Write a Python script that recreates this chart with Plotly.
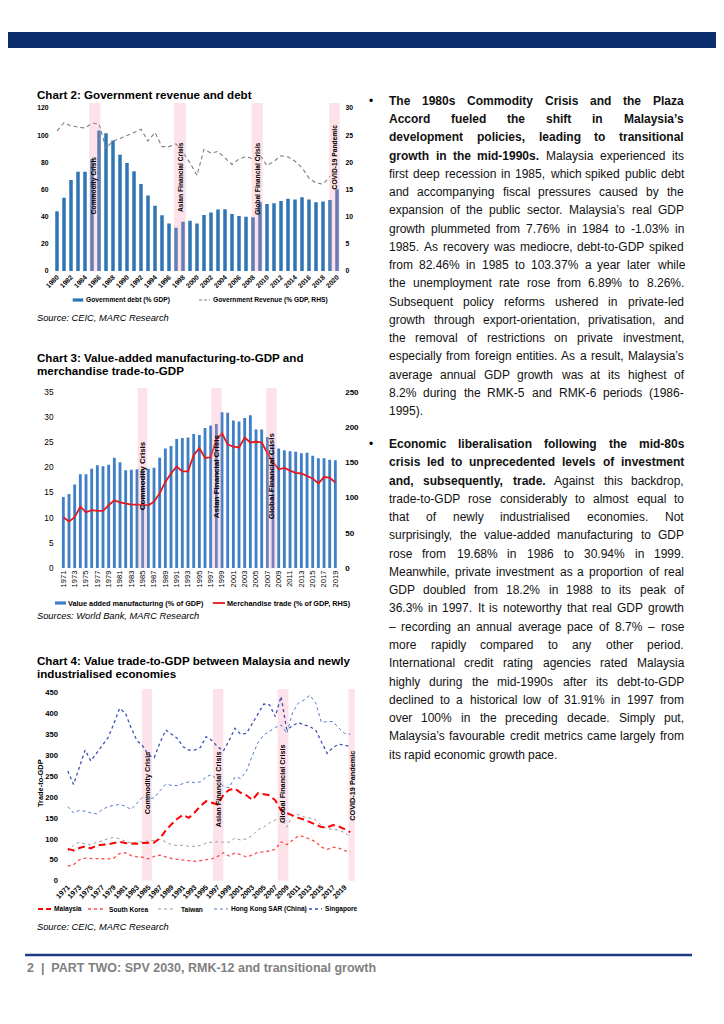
import plotly.graph_objects as go

# The page body has an 8px margin; the figure is sized to fill the rest of the 724x1024 window
OFF = 8
W, H = 724 - OFF, 1024 - OFF
def px(x): return (x - OFF) / W
def py(y): return 1 - (y - OFF) / H

FONT = "Liberation Sans"

# ---------------- Chart 2 data ----------------
c2_years = list(range(1980, 2021))
c2_debt = [44, 54, 67, 73, 73, 82.5, 103.4, 101.5, 96, 85.5,
           79.5, 73.5, 64, 55.5, 48, 41, 35, 31.9, 36.3, 37,
           35, 41.2, 43, 45.2, 45.5, 42, 40.5, 40, 39.5, 50.6,
           49.4, 49.9, 51.6, 53.1, 52.6, 54.3, 52.6, 50.6, 51.1, 52.3,
           60.2]
c2_revenue = [25.8, 27.3, 26.7, 26.5, 26.3, 27.2, 27.1, 22.6, 23.9, 24.4,
              24.9, 25.5, 26.1, 23.9, 25.5, 22.9, 22.9, 23.4, 21.8, 19.9,
              17.6, 22.4, 21.7, 22.0, 20.8, 19.6, 20.6, 21.1, 20.6, 21.3,
              19.4, 20.2, 21.2, 21.0, 20.2, 19.0, 17.1, 16.2, 16.0, 17.4,
              None]
c2_ticks = list(range(1980, 2021, 2))
c2_crisis_names = ["Commodity Crisis", "Asian Financial Crisis", "Global Financial Crisis", "COVID-19 Pandemic"]
c2_crisis_start = [1984.6, 1996.7, 2007.8, 2018.9]
c2_crisis_end = [1986.2, 1998.4, 2009.4, 2020.4]
c2_label_y = [63, 69, 68, 84]

# ---------------- Chart 3 data ----------------
c3_years = list(range(1971, 2020))
c3_manuf = [14.1, 14.7, 16.6, 18.6, 18.6, 19.7, 20.4, 20.2, 20.5, 21.9,
            21.0, 19.4, 19.5, 19.6, 19.6, 19.7, 19.9, 21.9, 23.7, 24.2,
            25.6, 25.8, 25.9, 26.6, 26.4, 27.8, 28.3, 28.6, 30.9, 30.8,
            29.3, 29.1, 29.8, 30.3, 27.5, 27.5, 26.0, 24.6, 23.7, 23.4,
            23.2, 23.1, 22.8, 22.9, 22.3, 21.8, 21.8, 21.5, 21.4]
c3_trade = [72, 66, 72, 87, 79, 82, 81, 81, 89, 96,
            93, 91, 90, 90, 89, 89, 94, 106, 122, 134,
            144, 137, 137, 160, 170, 156, 157, 182, 191, 175,
            172, 171, 185, 178, 179, 178, 163, 150, 140, 142,
            138, 135, 134, 131, 127, 120, 129, 128, 121]
c3_ticks = list(range(1971, 2020, 2))
c3_crisis_names = ["Commodity Crisis", "Asian Financial Crisis", "Global Financial Crisis"]
c3_crisis_start = [1984.1, 1997.1, 2006.8]
c3_crisis_end = [1985.8, 1998.95, 2008.65]
c3_label_y = [18.3, 18.3, 18.3]

# ---------------- Chart 4 data ----------------
c4_years = list(range(1971, 2021))
c4_malaysia = [76, 72, 78, 82, 77, 84, 86, 87, 90, 93,
               90, 89, 88, 90, 90, 91, 102, 120, 135, 148,
               157, 150, 163, 178, 190, 186, 182, 205, 217, 220,
               210, 204, 193, 209, 206, 204, 192, 168, 162, 156,
               150, 146, 140, 134, 128, 127, 133, 130, 124, 116]
c4_south_korea = [35, 38, 50, 54, 53, 53, 52, 52, 54, 65,
                  67, 60, 57, 56, 52, 58, 61, 57, 53, 51,
                  50, 48, 46, 48, 51, 52, 58, 67, 59, 66,
                  62, 57, 61, 68, 69, 71, 75, 93, 86, 97,
                  107, 105, 99, 93, 80, 75, 80, 78, 72, 69]
c4_taiwan = [70, 85, 92, 88, 85, 92, 95, 101, 103, 100,
             94, 90, 91, 93, 95, 96, 99, 93, 86, 84,
             85, 82, 82, 84, 90, 92, 93, 92, 92, 102,
             97, 100, 108, 122, 128, 138, 145, 150, 128, 155,
             158, 152, 150, 145, 132, 124, 122, 121, 115, 105]
c4_hong_kong = [177, 162, 168, 166, 162, 160, 170, 177, 180, 182,
                178, 170, 185, 200, 196, 198, 215, 230, 228, 227,
                232, 236, 234, 236, 248, 254, 238, 226, 222, 248,
                244, 262, 298, 330, 348, 358, 366, 372, 352, 402,
                424, 432, 443, 425, 378, 380, 380, 365, 352, 350]
c4_singapore = [262, 230, 270, 312, 286, 305, 325, 342, 375, 412,
                400, 365, 335, 322, 300, 294, 330, 360, 350, 340,
                320, 312, 312, 318, 344, 335, 320, 310, 335, 364,
                350, 352, 375, 400, 422, 420, 392, 440, 360, 370,
                378, 372, 368, 360, 330, 304, 318, 326, 324, 320]
c4_ticks = list(range(1971, 2020, 2))
c4_crisis_names = ["Commodity Crisis", "Asian Financial Crisis", "Global Financial Crisis", "COVID-19 Pandemic"]
c4_crisis_start = [1983.9, 1996.2, 2007.4, 2019.7]
c4_crisis_end = [1985.6, 1998.0, 2009.3, 2020.8]
c4_label_y = [233, 219, 231, 226]

# ---------------- Text column ----------------
para1 = [
    ("The 1980s Commodity Crisis and the Plaza", ""),
    ("Accord fueled the shift in Malaysia’s", ""),
    ("development policies, leading to transitional", ""),
    ("growth in the mid-1990s.", "Malaysia experienced its"),
    ("", "first deep recession in 1985, which spiked public debt"),
    ("", "and accompanying fiscal pressures caused by the"),
    ("", "expansion of the public sector. Malaysia’s real GDP"),
    ("", "growth plummeted from 7.76% in 1984 to -1.03% in"),
    ("", "1985. As recovery was mediocre, debt-to-GDP spiked"),
    ("", "from 82.46% in 1985 to 103.37% a year later while"),
    ("", "the unemployment rate rose from 6.89% to 8.26%."),
    ("", "Subsequent policy reforms ushered in private-led"),
    ("", "growth through export-orientation, privatisation, and"),
    ("", "the removal of restrictions on private investment,"),
    ("", "especially from foreign entities. As a result, Malaysia’s"),
    ("", "average annual GDP growth was at its highest of"),
    ("", "8.2% during the RMK-5 and RMK-6 periods (1986-"),
    ("", "1995)."),
]
para2 = [
    ("Economic liberalisation following the mid-80s", ""),
    ("crisis led to unprecedented levels of investment", ""),
    ("and, subsequently, trade.", "Against this backdrop,"),
    ("", "trade-to-GDP rose considerably to almost equal to"),
    ("", "that of newly industrialised economies. Not"),
    ("", "surprisingly, the value-added manufacturing to GDP"),
    ("", "rose from 19.68% in 1986 to 30.94% in 1999."),
    ("", "Meanwhile, private investment as a proportion of real"),
    ("", "GDP doubled from 18.2% in 1988 to its peak of"),
    ("", "36.3% in 1997. It is noteworthy that real GDP growth"),
    ("", "– recording an annual average pace of 8.7% – rose"),
    ("", "more rapidly compared to any other period."),
    ("", "International credit rating agencies rated Malaysia"),
    ("", "highly during the mid-1990s after its debt-to-GDP"),
    ("", "declined to a historical low of 31.91% in 1997 from"),
    ("", "over 100% in the preceding decade. Simply put,"),
    ("", "Malaysia’s favourable credit metrics came largely from"),
    ("", "its rapid economic growth pace."),
]
footer_text = "2  |  PART TWO: SPV 2030, RMK-12 and transitional growth"

# ---------------- Arial-compatible metrics (Liberation Sans) ----------------
_lc = "abcdefghijklmnopqrstuvwxyz"
_uc = "ABCDEFGHIJKLMNOPQRSTUVWXYZ"
REG = dict(zip(_lc, [556,556,500,556,556,278,556,556,222,222,500,222,833,556,556,556,556,333,500,278,556,500,722,500,500,500]))
REG.update(zip(_uc, [667,667,722,722,667,611,778,722,278,500,667,556,833,722,778,667,778,722,667,611,722,667,944,667,667,611]))
REG.update({' ':278, '.':278, ',':278, '-':333, '%':889, '(':333, ')':333, ':':278, '’':222, '–':556, '|':260})
BLD = dict(zip(_lc, [556,611,556,611,556,333,611,611,278,278,556,278,889,611,611,611,611,389,556,333,611,556,778,556,556,500]))
BLD.update(zip(_uc, [722,722,722,722,667,611,778,722,278,556,722,611,833,722,778,667,778,722,667,611,722,667,944,667,667,611]))
BLD.update({' ':278, '.':278, ',':278, '-':333, '%':889, '(':333, ')':333, ':':333, '’':278, '–':556, '|':280})

def em(s, bold=False):
    t = BLD if bold else REG
    return sum(t.get(c, 556) for c in s) / 1000.0

fig = go.Figure()

# ---------------- traces ----------------
BLUE2 = "#2e75b6"
fig.add_trace(go.Bar(x=c2_years, y=c2_debt, width=0.5, marker=dict(color=BLUE2, line=dict(width=0)),
                     xaxis="x", yaxis="y", name="Government debt (% GDP)"))
fig.add_trace(go.Scatter(x=c2_years, y=c2_revenue, mode="lines",
                         line=dict(color="#7f7f7f", width=1.1, dash="4px,3px"),
                         xaxis="x", yaxis="y2", name="Government Revenue (% GDP, RHS)"))

fig.add_trace(go.Bar(x=c3_years, y=c3_manuf, width=0.5, marker=dict(color="#3f7fc7", line=dict(width=0)),
                     xaxis="x2", yaxis="y3", name="Value added manufacturing (% of GDP)"))
fig.add_trace(go.Scatter(x=c3_years, y=c3_trade, mode="lines", line=dict(color="#e31a1c", width=1.8),
                         xaxis="x2", yaxis="y4", name="Merchandise trade (% of GDP, RHS)"))

c4_series = [
    ("Taiwan", c4_taiwan, dict(color="#9a9a9a", width=1, dash="dot")),
    ("South Korea", c4_south_korea, dict(color="#ff4a4a", width=1.3, dash="dot")),
    ("Hong Kong SAR (China)", c4_hong_kong, dict(color="#4f77c9", width=1, dash="3px,3px")),
    ("Singapore", c4_singapore, dict(color="#3b50b5", width=1.3, dash="dot")),
    ("Malaysia", c4_malaysia, dict(color="#ff0000", width=2, dash="7px,4px")),
]
for nm, vals, ln in c4_series:
    fig.add_trace(go.Scatter(x=c4_years, y=vals, mode="lines", line=ln, xaxis="x3", yaxis="y5", name=nm))

def tf(size, bold=True, color="#000"):
    return dict(family=FONT, size=size, color=color, weight="bold" if bold else "normal")

common = dict(showgrid=False, zeroline=False, showline=False, ticks="", fixedrange=True, automargin=False)

fig.update_layout(
    template="none",
    width=W, height=H, margin=dict(l=0, r=0, t=0, b=0, pad=0, autoexpand=False), autosize=False,
    paper_bgcolor="white", plot_bgcolor="rgba(0,0,0,0)", showlegend=False, hovermode=False,
    font=dict(family=FONT, color="#000"),
    xaxis=dict(domain=[px(53.5), px(340.5)], range=[1979.5, 2020.5], anchor="y",
               tickmode="array", tickvals=c2_ticks, ticktext=[str(t) for t in c2_ticks],
               tickangle=-45, tickfont=tf(6.8), **common),
    yaxis=dict(domain=[py(271), py(108)], range=[0, 120], dtick=20, anchor="x",
               tickfont=tf(6.8), ticklabelstandoff=4, **common),
    yaxis2=dict(overlaying="y", side="right", anchor="x", range=[0, 30], dtick=5,
                tickfont=tf(6.8), ticklabelstandoff=4, **common),
    xaxis2=dict(domain=[px(60.5), px(338.2)], range=[1970.5, 2019.5], anchor="y3",
                tickmode="array", tickvals=c3_ticks, ticktext=[str(t) for t in c3_ticks],
                tickangle=-90, tickfont=tf(7.6, bold=False), **common),
    yaxis3=dict(domain=[py(568), py(391.7)], range=[0, 35], dtick=5, anchor="x2",
                tickfont=tf(8.3, bold=False), ticklabelstandoff=6, **common),
    yaxis4=dict(overlaying="y3", side="right", anchor="x2", range=[0, 250], dtick=50,
                tickfont=tf(8, bold=True), ticklabelstandoff=6, **common),
    xaxis3=dict(domain=[px(62), px(356)], range=[1970, 2021], anchor="y5",
                tickmode="array", tickvals=c4_ticks, ticktext=[str(t) for t in c4_ticks],
                tickangle=-45, tickfont=tf(7.2), **common),
    yaxis5=dict(domain=[py(880.7), py(692.3)], range=[0, 450], dtick=50, anchor="x3",
                tickfont=tf(7.6), ticklabelstandoff=3, **common),
)

shapes = []
ann = []
BAND = "rgba(246,150,172,0.27)"

def crisis(xref, yref, starts, ends, names, label_ys, top_px, bottom_px, fsize, layer):
    for s, e, nm, ly in zip(starts, ends, names, label_ys):
        shapes.append(dict(type="rect", xref=xref, yref="paper", x0=s, x1=e,
                           y0=py(bottom_px), y1=py(top_px), fillcolor=BAND,
                           line=dict(width=0), layer=layer))
        ann.append(dict(xref=xref, yref=yref, x=(s + e) / 2, y=ly, text="<b>%s</b>" % nm,
                        textangle=-90, showarrow=False, xanchor="center", yanchor="middle",
                        font=dict(family=FONT, size=fsize, color="#000")))

crisis("x", "y", c2_crisis_start, c2_crisis_end, c2_crisis_names, c2_label_y, 103, 271, 6.7, "above")
crisis("x2", "y3", c3_crisis_start, c3_crisis_end, c3_crisis_names, c3_label_y, 388, 568, 8.0, "above")
crisis("x3", "y5", c4_crisis_start, c4_crisis_end, c4_crisis_names, c4_label_y, 689, 880.7, 7.3, "below")

def text(x, y, s, size, bold=False, italic=False, color="#000", anchor="left"):
    t = s
    if bold:
        t = "<b>%s</b>" % t
    if italic:
        t = "<i>%s</i>" % t
    ann.append(dict(xref="paper", yref="paper", x=px(x), y=py(y), text=t, showarrow=False,
                    xanchor=anchor, yanchor="middle", font=dict(family=FONT, size=size, color=color)))

# Titles
text(35, 95, "Chart 2: Government revenue and debt", 11.6, bold=True)
text(35, 357, "Chart 3: Value-added manufacturing-to-GDP and", 11.6, bold=True)
text(35, 370.5, "merchandise trade-to-GDP", 11.6, bold=True)
text(35, 660, "Chart 4: Value trade-to-GDP between Malaysia and newly", 11.6, bold=True)
text(35, 673.5, "industrialised economies", 11.6, bold=True)

# Sources
text(35, 318, "Source: CEIC, MARC Research", 9.3, italic=True)
text(35, 616, "Sources: World Bank, MARC Research", 9.3, italic=True)
text(35, 927, "Source: CEIC, MARC Research", 9.3, italic=True)

# y title chart 4
ann.append(dict(xref="paper", yref="paper", x=px(40), y=py(783), text="<b>Trade-to-GDP</b>",
                textangle=-90, showarrow=False, xanchor="center", yanchor="middle",
                font=dict(family=FONT, size=7.4, color="#000")))

# Legends (manual)
def sw_rect(x0, x1, y, color, h=3.2):
    shapes.append(dict(type="rect", xref="paper", yref="paper", x0=px(x0), x1=px(x1),
                       y0=py(y + h / 2), y1=py(y - h / 2), fillcolor=color, line=dict(width=0)))
def sw_line(x0, x1, y, color, width, dash):
    shapes.append(dict(type="line", xref="paper", yref="paper", x0=px(x0), x1=px(x1),
                       y0=py(y), y1=py(y), line=dict(color=color, width=width, dash=dash)))

sw_rect(72.7, 83.3, 300, BLUE2)
text(83.5, 300, "Government debt (% GDP)", 6.7, bold=True)
sw_line(199, 210, 300, "#7f7f7f", 1.1, "3px,2px")
text(210.5, 300, "Government Revenue (% GDP, RHS)", 6.7, bold=True)

sw_rect(55, 66, 603, "#3f7fc7")
text(65.5, 603, "Value added manufacturing (% of GDP)", 7.3, bold=True)
sw_line(212.7, 225, 603, "#e31a1c", 1.8, "solid")
text(225, 603, "Merchandise trade (% of GDP, RHS)", 7.3, bold=True)

LEG4 = 6.6
sw_line(38, 51, 909, "#ff0000", 2, "5px,3px")
text(52, 909, "Malaysia", LEG4, bold=True)
sw_line(88, 106, 909, "#ff4a4a", 1.3, "dot")
text(106.5, 909, "South Korea", LEG4, bold=True)
sw_line(158, 176, 909, "#9a9a9a", 1, "dot")
text(178.5, 909, "Taiwan", LEG4, bold=True)
sw_line(214, 228, 909, "#4f77c9", 1, "3px,3px")
text(228.5, 909, "Hong Kong SAR (China)", LEG4, bold=True)
sw_line(309, 322, 909, "#3b50b5", 1.3, "dot")
text(323, 909, "Singapore", LEG4, bold=True)

# Page decorations
shapes.append(dict(type="rect", xref="paper", yref="paper", x0=px(0), x1=px(724), y0=py(48), y1=py(32),
                   fillcolor="#0c2d6c", line=dict(width=0), layer="above"))
shapes.append(dict(type="line", xref="paper", yref="paper", x0=px(25), x1=px(692), y0=py(955), y1=py(955),
                   line=dict(color="#1c3b82", width=2.5)))
text(25, 968, footer_text, min(12.5, 358 / em(footer_text, True)), bold=True, color="#808080")

# Justified text column
TXT_L, TXT_R = 389.0, 684.0
LINE_H = 18.27

def words_of(line):
    b, n = line
    return [(w, True) for w in b.split()] + [(w, False) for w in n.split()]

all_lines = para1 + para2
max_em = max(sum(em(w, b) for w, b in words_of(l)) + 0.278 * (len(words_of(l)) - 1) for l in all_lines)
FS = min(12.0, (TXT_R - TXT_L - 3) / max_em)

def place_para(para, y0):
    text(367, y0, "•", FS)
    for i, line in enumerate(para):
        y = y0 + i * LINE_H
        ws = words_of(line)
        widths = [em(w, b) * FS for w, b in ws]
        justified = i < len(para) - 1 and len(ws) > 1
        gap = (TXT_R - TXT_L - sum(widths)) / (len(ws) - 1) if justified else 0.278 * FS
        x = TXT_L
        for (w, b), wd in zip(ws, widths):
            t = "<b>%s</b>" % w if b else w
            ann.append(dict(xref="paper", yref="paper", x=px(x - 2), y=py(y), text=t, showarrow=False,
                            xanchor="left", yanchor="middle",
                            font=dict(family=FONT, size=FS, color="#111")))
            x += wd + gap

place_para(para1, 100.7)
place_para(para2, 444.0)

fig.update_layout(shapes=shapes, annotations=ann)
fig.write_html("out.html", config={"displayModeBar": False})
